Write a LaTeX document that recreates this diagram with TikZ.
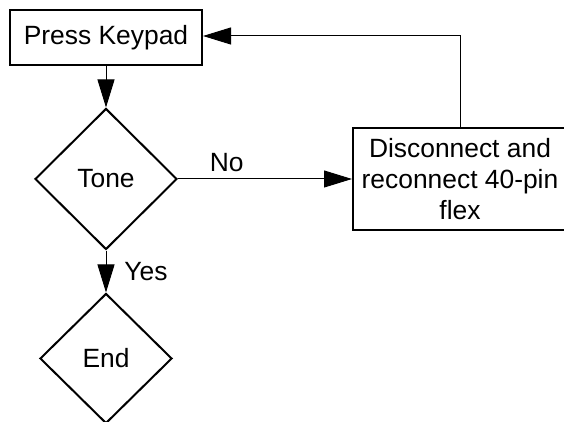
\documentclass[tikz,border=0pt]{standalone}
\usepackage{fontspec}
\setmainfont{Liberation Sans}
\usepackage{tikz}
\usetikzlibrary{shapes.geometric, arrows.meta, positioning}
\tikzset{
    stepbox/.style={rectangle, draw, line width=1pt, align=center, font=\fontsize{13.2}{15.5}\selectfont},
    decision/.style={diamond, draw, line width=1pt, inner sep=0pt, font=\fontsize{13.2}{15.5}\selectfont},
    label/.style={font=\fontsize{13.2}{15.5}\selectfont, inner sep=3.5pt},
    arrow/.style={-{Triangle[length=14pt, width=8.5pt]}, line width=0.5pt},
}
\begin{document}
\begin{tikzpicture}[x=0.5pt, y=-0.5pt]
    \useasboundingbox (0,0) rectangle (564,422);

    \node[stepbox, minimum width=96pt, minimum height=27.5pt] (keypad) at (106,38) {Press Keypad};

    \node[decision, minimum width=71pt, minimum height=70.5pt, below=20.5pt of keypad] (tone) {Tone};

    \node[decision, minimum width=66pt, minimum height=65pt, below=21pt of tone] (finish) {End};

    \node[stepbox, minimum width=107pt, minimum height=51pt, inner ysep=2pt, right=87pt of tone] (reflex) {Disconnect and\\reconnect 40-pin\\flex};

    \draw[arrow] (keypad) -- (tone);
    \draw[arrow] (tone) -- node[label, pos=0.28, above] {No} (reflex);
    \draw[arrow] (tone) -- node[label, midway, right, xshift=5.5pt] {Yes} (finish);
    \draw[arrow] (reflex.north) |- ([yshift=1pt]keypad.east);
\end{tikzpicture}
\end{document}
